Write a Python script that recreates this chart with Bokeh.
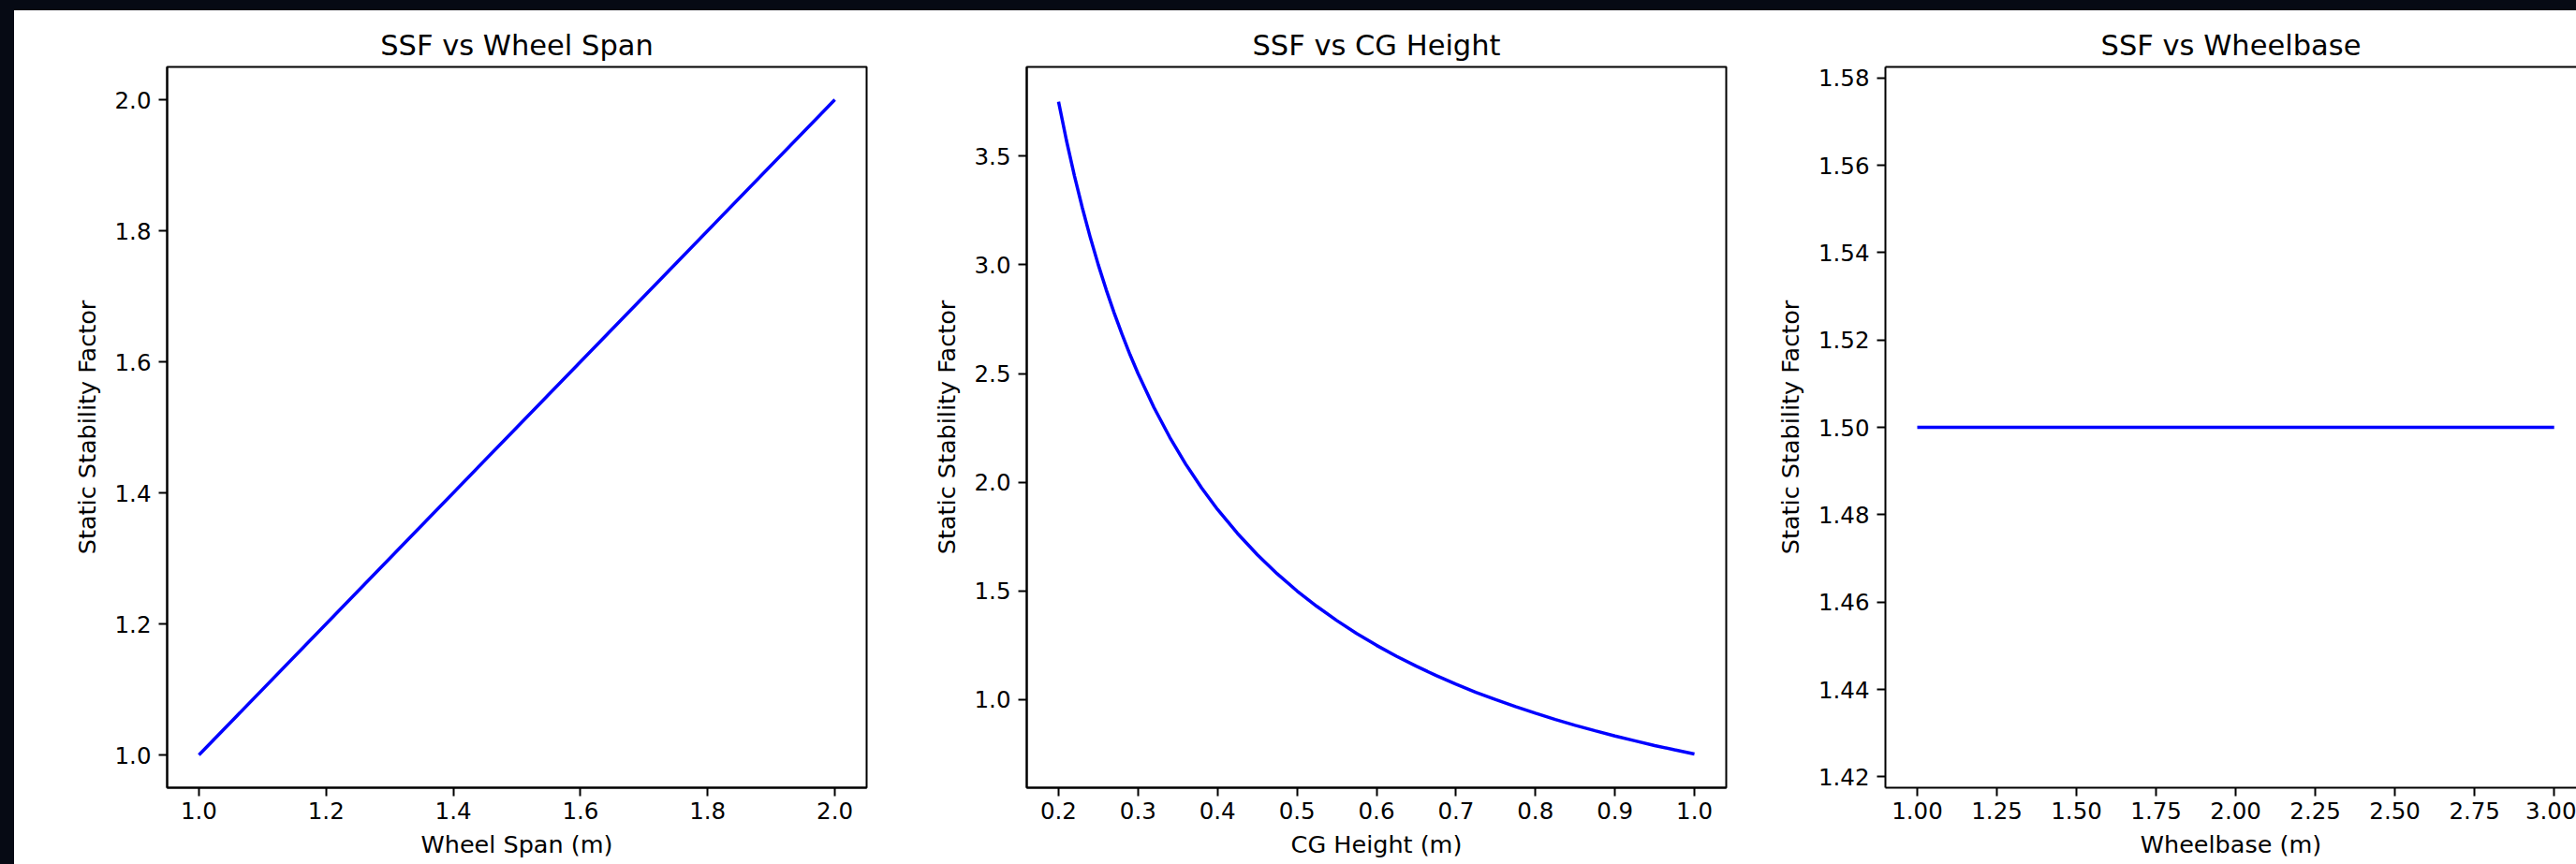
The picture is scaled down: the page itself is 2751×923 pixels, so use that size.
from bokeh.plotting import figure
from bokeh.layouts import row, column
from bokeh.models import Spacer, FixedTicker, PrintfTickFormatter, LinearAxis, Range1d
from bokeh.embed import file_html
from bokeh.resources import INLINE

# ---- data ----
span_x = [1.0, 1.25, 1.5, 1.75, 2.0]
span_ssf = [1.0, 1.25, 1.5, 1.75, 2.0]

cg_x = [0.2, 0.21, 0.22, 0.23, 0.24, 0.25, 0.26, 0.27, 0.28, 0.29, 0.3, 0.32, 0.34, 0.36,
        0.38, 0.4, 0.425, 0.45, 0.475, 0.5, 0.525, 0.55, 0.575, 0.6, 0.625, 0.65, 0.675,
        0.7, 0.725, 0.75, 0.775, 0.8, 0.825, 0.85, 0.875, 0.9, 0.925, 0.95, 0.975, 1.0]
cg_ssf = [3.75, 3.571, 3.409, 3.261, 3.125, 3.0, 2.885, 2.778, 2.679, 2.586, 2.5, 2.344,
          2.206, 2.083, 1.974, 1.875, 1.765, 1.667, 1.579, 1.5, 1.429, 1.364, 1.304, 1.25,
          1.2, 1.154, 1.111, 1.071, 1.034, 1.0, 0.968, 0.9375, 0.909, 0.882, 0.857, 0.833,
          0.811, 0.789, 0.769, 0.75]

wb_x = [1.0, 1.5, 2.0, 2.5, 3.0]
wb_ssf = [1.5, 1.5, 1.5, 1.5, 1.5]

span_xticks = [1.0, 1.2, 1.4, 1.6, 1.8, 2.0]
span_yticks = [1.0, 1.2, 1.4, 1.6, 1.8, 2.0]
cg_xticks = [0.2, 0.3, 0.4, 0.5, 0.6, 0.7, 0.8, 0.9, 1.0]
cg_yticks = [1.0, 1.5, 2.0, 2.5, 3.0, 3.5]
wb_xticks = [1.0, 1.25, 1.5, 1.75, 2.0, 2.25, 2.5, 2.75, 3.0]
wb_yticks = [1.42, 1.44, 1.46, 1.48, 1.50, 1.52, 1.54, 1.56, 1.58]

titles = ["SSF vs Wheel Span", "SSF vs CG Height", "SSF vs Wheelbase"]
xlabels = ["Wheel Span (m)", "CG Height (m)", "Wheelbase (m)"]
ylabel = "Static Stability Factor"

FONT = "DejaVu Sans"
TICK = "24.5px"
LAB = "25.5px"
TIT = "30.5px"
BG = "#060a14"
H = 912


def style_axis(ax, ticks, fmt, label, standoff, lab_standoff):
    ax.ticker = FixedTicker(ticks=ticks)
    ax.formatter = PrintfTickFormatter(format=fmt)
    ax.axis_label = label
    ax.axis_label_text_font = FONT
    ax.axis_label_text_font_size = LAB
    ax.axis_label_text_font_style = "normal"
    ax.axis_label_text_color = "#000000"
    ax.axis_label_standoff = standoff
    ax.major_label_text_font = FONT
    ax.major_label_text_font_size = TICK
    ax.major_label_text_color = "#000000"
    ax.major_label_standoff = lab_standoff
    ax.major_tick_out = 9
    ax.major_tick_in = 0
    ax.minor_tick_out = 0
    ax.minor_tick_in = 0
    ax.major_tick_line_width = 2
    ax.major_tick_line_color = "#000000"
    ax.axis_line_width = 2
    ax.axis_line_color = "#000000"


def make(title, xr, yr, width, bl, br, outline=True):
    p = figure(width=width, height=H, x_range=Range1d(*xr), y_range=Range1d(*yr),
               output_backend="svg", toolbar_location=None,
               min_border_left=bl, min_border_right=br, min_border_top=60, min_border_bottom=82)
    p.title.text = title
    p.title.text_font = FONT
    p.title.text_font_size = TIT
    p.title.text_font_style = "normal"
    p.title.align = "center"
    p.title.text_color = "#000000"
    p.title.standoff = 12
    p.grid.visible = False
    p.background_fill_color = "white"
    p.border_fill_color = "white"
    if outline:
        p.outline_line_color = "#000000"
        p.outline_line_width = 2
        p.outline_line_alpha = 1
    else:
        p.outline_line_color = None
    return p


p1 = make(titles[0], (0.95, 2.05), (0.95, 2.05), 965, 163, 55)
style_axis(p1.xaxis[0], span_xticks, "%.1f", xlabels[0], 9, 6)
style_axis(p1.yaxis[0], span_yticks, "%.1f", ylabel, 12, 8)
p1.line(span_x, span_ssf, line_color="#0000ff", line_width=3.5)

p2 = make(titles[1], (0.16, 1.04), (0.595, 3.91), 908, 116, 45)
style_axis(p2.xaxis[0], cg_xticks, "%.1f", xlabels[1], 9, 6)
style_axis(p2.yaxis[0], cg_yticks, "%.1f", ylabel, 12, 8)
p2.line(cg_x, cg_ssf, line_color="#0000ff", line_width=3.5)

p3 = make(titles[2], (0.9, 3.07), (1.4175, 1.5825), 863, 125, 0, outline=False)
style_axis(p3.xaxis[0], wb_xticks, "%.2f", xlabels[2], 9, 6)
style_axis(p3.yaxis[0], wb_yticks, "%.2f", ylabel, 12, 8)
top = LinearAxis(ticker=FixedTicker(ticks=[]), axis_line_width=2, axis_line_color="#000000",
                 major_tick_out=0, major_tick_in=0, minor_tick_out=0, minor_tick_in=0,
                 major_label_standoff=0, major_label_text_font_size="0px")
p3.add_layout(top, "above")
p3.line(wb_x, wb_ssf, line_color="#0000ff", line_width=3.5)

bg_top = Spacer(width=2751, height=11, styles={"background-color": BG})
bg_left = Spacer(width=15, height=H, styles={"background-color": BG})
layout = column(bg_top, row(bg_left, p1, p2, p3, spacing=0), spacing=0,
                styles={"background-color": "white"})

open("out.html", "w").write(file_html(layout, INLINE))
